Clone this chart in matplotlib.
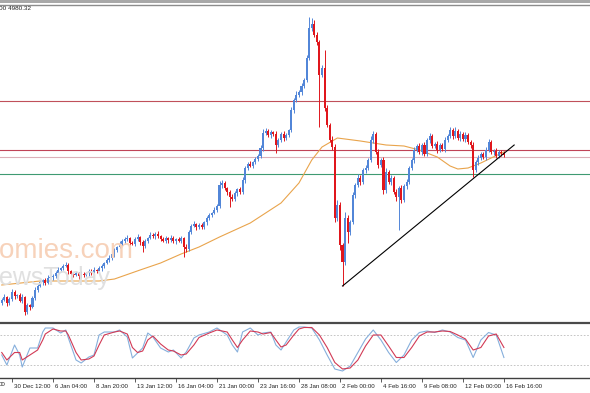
import matplotlib.pyplot as plt
from matplotlib.patches import Rectangle
from matplotlib.transforms import ScaledTranslation

# H4 candles, close prices (open = previous close)
first_open = 4832
closes = [
    4835, 4838, 4832, 4836, 4843, 4839, 4840, 4834, 4838, 4823, 4830, 4828, 4837, 4845, 4849, 4853, 4855, 4852, 4857, 4858,
    4859, 4862, 4865, 4867, 4869, 4870, 4864, 4861, 4860, 4862, 4859, 4861, 4860, 4862, 4864, 4862, 4865, 4864, 4867, 4869,
    4872, 4875, 4877, 4881, 4885, 4888, 4891, 4894, 4896, 4897, 4892, 4891, 4896, 4898, 4893, 4889, 4894, 4897, 4900, 4899,
    4901, 4899, 4896, 4894, 4897, 4895, 4897, 4894, 4896, 4894, 4897, 4888, 4886, 4903, 4909, 4911, 4908, 4910, 4908, 4913,
    4917, 4920, 4922, 4925, 4929, 4950, 4952, 4947, 4943, 4938, 4936, 4942, 4946, 4943, 4955, 4967, 4971, 4969, 4973, 4976,
    4979, 4987, 5002, 5004, 5000, 5003, 5001, 4990, 4995, 5001, 4997, 5000, 5005, 5025, 5035, 5040, 5043, 5049, 5055, 5077,
    5107, 5111, 5100, 5093, 5060, 5067, 5027, 5010, 4995, 4988, 4917, 4930, 4890, 4873, 4917, 4903, 4913, 4940, 4950, 4957,
    4953, 4965, 4967, 4975, 4995, 5001, 4983, 4970, 4975, 4945, 4963, 4953, 4957, 4943, 4938, 4947, 4935, 4949, 4953, 4967,
    4975, 4985, 4989, 4983, 4990, 4981, 4995, 4999, 4989, 4991, 4985, 4990, 4986, 4995, 4999, 5005, 4999, 5004, 4997, 5001,
    4996, 5000, 4993, 4990, 4965, 4973, 4977, 4981, 4978, 4985, 4993, 4983, 4984, 4979, 4983, 4982, 4980,
]
wick_up = [
    2, 3, 1, 2, 3, 2, 1, 2, 3, 1, 2, 1, 2, 3, 2, 2, 1, 2, 3, 1,
    2, 2, 3, 1, 2, 3, 2, 1, 2, 2, 1, 3, 2, 1, 2, 2, 3, 1, 2, 2,
    1, 2, 3, 2, 2, 1, 3, 2, 2, 3, 1, 2, 2, 3, 1, 2, 2, 1, 3, 2,
    2, 3, 1, 2, 2, 1, 3, 2, 1, 2, 2, 1, 3, 2, 2, 3, 1, 2, 2, 1,
    2, 2, 1, 3, 2, 4, 3, 2, 1, 2, 3, 2, 1, 2, 3, 2, 2, 3, 1, 2,
    2, 3, 4, 3, 2, 2, 1, 3, 2, 2, 3, 2, 1, 3, 2, 4, 2, 3, 2, 3,
    11, 6, 4, 3, 2, 3, 18, 3, 2, 4, 3, 5, 3, 2, 6, 3, 2, 3, 2, 4,
    3, 2, 3, 2, 4, 3, 2, 3, 2, 3, 4, 2, 3, 2, 3, 2, 3, 2, 3, 2,
    2, 3, 2, 3, 2, 3, 2, 3, 2, 2, 3, 2, 2, 3, 2, 3, 2, 4, 2, 3,
    2, 3, 2, 2, 3, 2, 3, 2, 2, 3, 3, 2, 2, 3, 2, 2, 2,
]
wick_dn = [
    2, 1, 3, 2, 2, 3, 2, 1, 2, 3, 2, 3, 1, 2, 2, 1, 3, 2, 1, 2,
    3, 2, 1, 2, 2, 1, 3, 2, 2, 1, 3, 2, 2, 1, 3, 2, 1, 2, 2, 3,
    2, 1, 2, 2, 3, 2, 1, 2, 3, 2, 2, 1, 2, 2, 3, 6, 2, 2, 1, 2,
    3, 2, 2, 1, 2, 3, 2, 2, 3, 1, 2, 10, 3, 2, 2, 1, 3, 2, 2, 2,
    3, 2, 2, 1, 2, 2, 3, 2, 3, 10, 2, 2, 3, 2, 2, 3, 2, 1, 2, 2,
    2, 2, 3, 2, 2, 3, 2, 8, 2, 2, 3, 2, 2, 2, 3, 2, 2, 3, 2, 2,
    2, 3, 2, 3, 52, 2, 3, 2, 2, 3, 4, 3, 5, 24, 3, 11, 3, 2, 3, 2,
    3, 2, 3, 2, 2, 3, 2, 3, 2, 4, 3, 2, 3, 2, 4, 33, 3, 2, 3, 2,
    2, 3, 2, 2, 3, 2, 2, 3, 2, 2, 3, 2, 2, 3, 2, 2, 3, 2, 2, 3,
    2, 3, 2, 3, 7, 2, 3, 2, 2, 3, 2, 2, 3, 2, 2, 3, 2,
]

# moving average, read at selected bars
ma_bars = [0, 15, 38, 44, 54, 62, 70, 77, 85, 97, 109, 116, 121, 125, 131, 140, 150, 157, 163, 170, 175, 178, 182, 187, 191, 196]
ma_vals = [4850, 4854, 4854, 4856, 4865, 4872, 4881, 4888, 4898, 4912, 4932, 4952, 4975, 4988, 4997, 4994, 4990, 4989, 4985, 4978, 4969, 4966, 4967, 4972, 4977, 4983]

# horizontal levels and trend line
levels = [5034, 4985, 4978, 4961]
level_colors = ['#c0505a', '#c04458', '#dcb0b8', '#3f9a72']
trend_bars = [133, 200]
trend_vals = [4849, 4990]

# stochastic oscillator
st_bars = [0, 2, 5, 7, 8, 11, 14, 16, 17, 20, 23, 25, 26, 29, 31, 34, 36, 38, 40, 44,
           46, 49, 51, 53, 55, 57, 59, 62, 65, 67, 70, 72, 75, 77, 81, 84, 88, 90, 92, 94,
           97, 100, 102, 105, 107, 109, 111, 114, 116, 118, 121, 124, 127, 130, 133, 136, 139, 142, 145, 148,
           151, 154, 157, 160, 163, 166, 169, 172, 175, 178, 181, 184, 187, 190, 193, 196]
st_main = [40, 20, 60, 40, 16, 54, 54, 86, 94, 94, 84, 90, 74, 30, 24, 36, 40, 80, 86, 86,
           90, 76, 34, 44, 54, 84, 76, 54, 46, 50, 34, 46, 74, 80, 86, 94, 80, 60, 46, 86,
           94, 80, 84, 86, 60, 50, 66, 90, 96, 96, 94, 70, 40, 12, 8, 18, 45, 72, 90, 70,
           45, 25, 40, 70, 85, 88, 85, 90, 86, 75, 70, 35, 70, 85, 80, 35]
st_signal = [45, 30, 45, 45, 30, 40, 50, 70, 82, 92, 88, 88, 80, 45, 30, 32, 38, 60, 80, 86,
             88, 82, 55, 45, 48, 70, 78, 62, 50, 48, 40, 42, 60, 75, 84, 90, 86, 70, 55, 70,
             88, 86, 82, 85, 70, 56, 60, 80, 92, 95, 95, 80, 55, 25, 12, 14, 30, 58, 80, 80,
             58, 35, 35, 55, 78, 86, 86, 88, 87, 80, 72, 50, 55, 78, 82, 55]

tick_bars = [4 + 16 * k for k in range(13)]
tick_labels = ['30 Dec 12:00', '6 Jan 04:00', '8 Jan 20:00', '13 Jan 12:00', '16 Jan 04:00',
               '21 Jan 00:00', '23 Jan 16:00', '28 Jan 08:00', '2 Feb 00:00', '4 Feb 16:00',
               '9 Feb 08:00', '12 Feb 00:00', '16 Feb 16:00']

W, H = 590, 393
fig = plt.figure(figsize=(W / 100, H / 100), dpi=100)
ax = fig.add_axes([0, 1 - 323 / H, 1, (323 - 5) / H])
ax2 = fig.add_axes([0, 1 - 378 / H, 1, (378 - 325) / H])

# watermark (cut by the left edge, as in the source screenshot)
fig.text(-60 / W, 1 - 258 / H, 'economies.com', fontsize=20, family='Liberation Sans',
         color='#f7d2ba', zorder=0)
fig.text(-19 / W, 1 - 285 / H, 'NewsToday', fontsize=18, family='Liberation Sans',
         color='#e0e0e0', zorder=0)
fig.patches.append(Rectangle((0, 1 - 3 / H), 1, 3 / H, transform=fig.transFigure,
                             facecolor='#a8a8a8', edgecolor='none'))
fig.text(-1 / W, 1 - 8 / H, '00 4980.32', fontsize=4.6, family='Liberation Sans', color='#222222', va='center')

ax.patch.set_alpha(0)
ax2.patch.set_alpha(0)

up_c, dn_c = '#5286d8', '#e0161c'
opens = [first_open] + closes[:-1]
for i, (o, c) in enumerate(zip(opens, closes)):
    col = up_c if c >= o else dn_c
    lo, hi = min(o, c), max(o, c)
    ax.vlines(i, lo - wick_dn[i], hi + wick_up[i], color=col, lw=0.7, zorder=3)
    ax.bar(i, max(hi - lo, 0.8), bottom=lo, width=0.8, color=col, lw=0, zorder=4)

for lv, lc in zip(levels, level_colors):
    ax.axhline(lv, color=lc, lw=0.8, zorder=2)
ax.plot(ma_bars, ma_vals, color='#e9a44c', lw=0.8, zorder=2)
ax.plot(trend_bars, trend_vals, color='black', lw=0.8, zorder=5)

ax.set_xlim(-0.68, 229.6)
ax.set_ylim(4812, 5130)
ax.set_xticks([])
ax.set_yticks([])
for s in ['left', 'right']:
    ax.spines[s].set_visible(False)
ax.spines['top'].set_color('#8c8c8c')
ax.spines['top'].set_linewidth(1.0)
ax.spines['bottom'].set_color('#4a4a4a')
ax.spines['bottom'].set_linewidth(1.6)

# stochastic panel
ax2.axhline(80, color='#bbbbbb', lw=0.6, ls=(0, (2, 2)))
ax2.axhline(20, color='#bbbbbb', lw=0.6, ls=(0, (2, 2)))
ax2.plot(st_bars, st_main, color='#86afdc', lw=0.8)
ax2.plot(st_bars, st_signal, color='#d23a55', lw=0.8)
ax2.set_xlim(-0.68, 229.6)
ax2.set_ylim(-6, 100)
ax2.set_yticks([])
for s in ['left', 'right', 'top']:
    ax2.spines[s].set_visible(False)
ax2.spines['bottom'].set_color('#404040')
ax2.spines['bottom'].set_linewidth(1.0)
ax2.set_xticks(tick_bars)
ax2.set_xticklabels(tick_labels, fontsize=4.4, family='Liberation Sans', color='#222222')
ax2.tick_params(axis='x', direction='out', length=3, width=0.6, color='#404040', pad=1.5)
for lab in ax2.get_xticklabels():
    lab.set_horizontalalignment('left')
    lab.set_transform(lab.get_transform() + ScaledTranslation(2 / 100, 0, fig.dpi_scale_trans))
fig.text(-1 / W, 1 - 384 / H, '00', fontsize=4.4, family='Liberation Sans', color='#222222', va='center')

fig.savefig('out.png', dpi=100)
